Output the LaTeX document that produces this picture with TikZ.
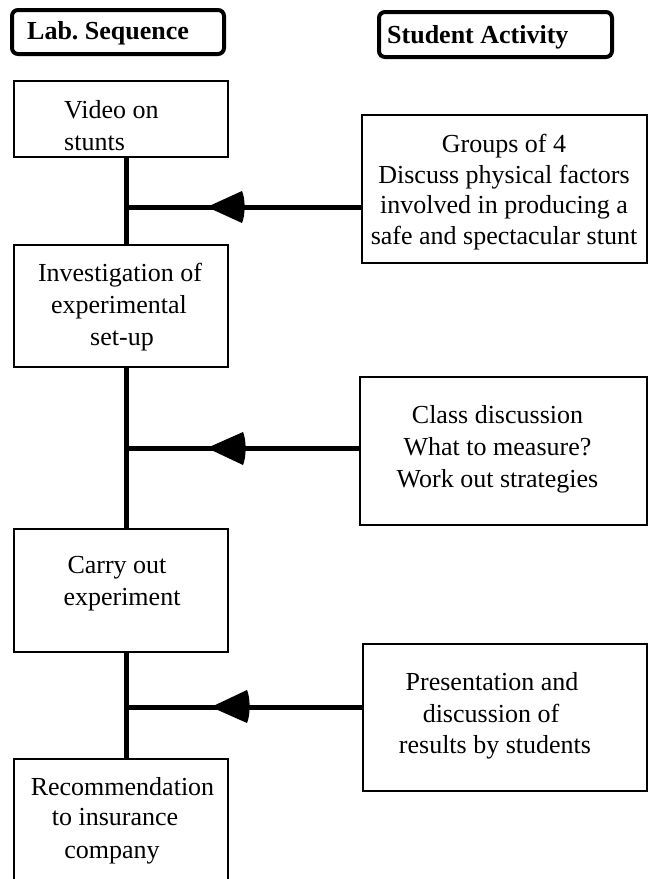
\documentclass[tikz,border=0pt]{standalone}
\usepackage{fontspec}
\setmainfont{Liberation Serif}
\frenchspacing
\tikzset{
  box/.style={draw, line width=2pt, rectangle, inner sep=0pt},
  headbox/.style={draw, line width=4pt, rounded corners=6pt, rectangle, inner sep=0pt},
  txt/.style={inner sep=0pt, anchor=base, font=\fontsize{26}{31}\selectfont},
  txtl/.style={inner sep=0pt, anchor=base west, font=\fontsize{26}{31}\selectfont},
  htxt/.style={inner sep=0pt, anchor=base west, font=\fontsize{26}{31}\selectfont\bfseries},
  conn/.style={line width=5pt},
  tiphead/.style={fill=black}
}
\begin{document}
\begin{tikzpicture}[x=1pt,y=-1pt]
\useasboundingbox (0,0) rectangle (648,879);
\clip (0,0) rectangle (648,879);

% header boxes
\node[headbox, minimum width=212pt, minimum height=44pt] (lab) at (118,32) {};
\node[headbox, minimum width=233pt, minimum height=45pt] (stu) at (495.5,34.5) {};
\node[htxt] (labt) at (27,39) {Lab.\ Sequence};
\node[htxt] (stut) at (387,43) {Student Activity};

% left column boxes
\node[box, minimum width=214pt, minimum height=76pt]  (video) at (121,119) {};
\node[box, minimum width=214pt, minimum height=122pt] (inv)   at (121,306) {};
\node[box, minimum width=214pt, minimum height=123pt] (car)   at (121,590.5) {};
\node[box, minimum width=214pt, minimum height=141pt] (rec)   at (121,829.5) {};

% right column boxes
\node[box, minimum width=285pt, minimum height=148pt] (grp)  at (504.5,189) {};
\node[box, minimum width=287pt, minimum height=148pt] (cls)  at (503.5,451) {};
\node[box, minimum width=284pt, minimum height=147pt] (pres) at (505,717.5) {};

% texts
\node[txtl] (v1) at (64,118) {Video on};
\node[txtl] (v2) at (64,150) {stunts};

\node[txt] (g1) at (504,152) {Groups of 4};
\node[txt] (g2) at (504,183) {Discuss physical factors};
\node[txt] (g3) at (504,213) {involved in producing a};
\node[txt] (g4) at (504,244) {safe and spectacular stunt};

\node[txt] (i1) at (120,281) {Investigation of};
\node[txt] (i2) at (119,313) {experimental};
\node[txt] (i3) at (122,345) {set-up};

\node[txt] (c1) at (497.5,423) {Class discussion};
\node[txt] (c2) at (497.5,455) {What to measure?};
\node[txt] (c3) at (497.5,487) {Work out strategies};

\node[txt] (k1) at (117,573) {Carry out};
\node[txt] (k2) at (122,605) {experiment};

\node[txt] (p1) at (492,690) {Presentation and};
\node[txt] (p2) at (491,722) {discussion of};
\node[txt] (p3) at (495,753) {results by students};

\node[txt] (r1) at (122.5,795) {Recommendation};
\node[txt] (r2) at (115,825) {to insurance};
\node[txt] (r3) at (112,858) {company};

% junctions on the vertical spine
\coordinate (j1) at (126,207);
\coordinate (j2) at (126,448);
\coordinate (j3) at (126,707);

% vertical connectors
\draw[conn] (video.south -| j1) -- (inv.north -| j1);
\draw[conn] (inv.south -| j2) -- (car.north -| j2);
\draw[conn] (car.south -| j3) -- (rec.north -| j3);

% horizontal connectors
\draw[conn] (grp.west |- j1) -- (j1);
\draw[conn] (cls.west |- j2) -- (j2);
\draw[conn] (pres.west |- j3) -- (j3);

% arrowheads
\fill[tiphead] (207,207) -- (242,191) .. controls (245.5,199) and (245.5,215) .. (242,223) -- cycle;
\fill[tiphead] (207,448) -- (243,432) .. controls (246.5,440) and (246.5,457) .. (243,465) -- cycle;
\fill[tiphead] (211,707) -- (247,690) .. controls (250.5,698) and (250.5,715) .. (247,723) -- cycle;
\end{tikzpicture}
\end{document}
